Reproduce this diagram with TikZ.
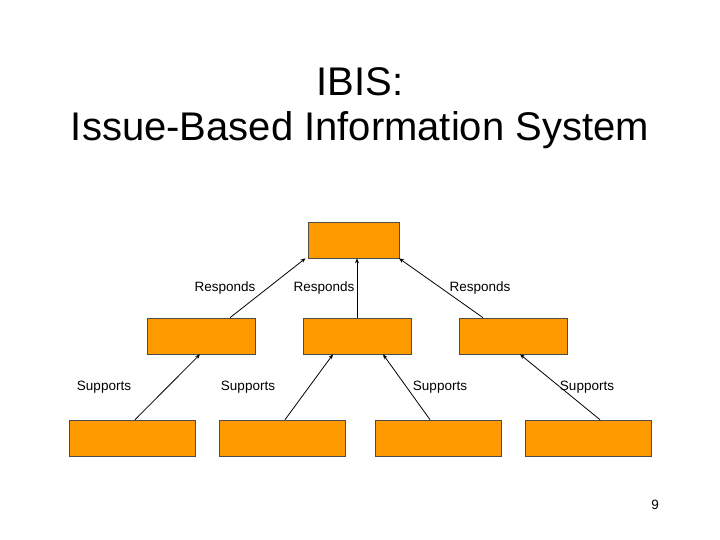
\documentclass[tikz,border=0pt]{standalone}
\usepackage{fontspec}
\setmainfont{Liberation Sans}
\usetikzlibrary{arrows.meta}
\definecolor{boxorange}{HTML}{FF9900}
\begin{document}
\begin{tikzpicture}[x=1pt,y=-1pt,
  box/.style={draw=black!70,line width=0.6pt,fill=boxorange,inner sep=0pt},
  lbl/.style={font=\fontsize{13.5}{16}\selectfont,inner sep=0pt},
  link/.style={-{Stealth[length=5pt,width=4pt]},line width=0.8pt}]
\useasboundingbox (0,0) rectangle (720,540);

% Title
\node[align=center,font=\fontsize{40}{45}\selectfont] (title) at (360,108) {IBIS:\\Issue-Based Information System};

% Boxes
\node[box,minimum width=91pt,minimum height=36pt] (top) at (353.5,240) {};
\node[box,minimum width=108pt,minimum height=36pt] (m1) at (201,336) {};
\node[box,minimum width=108pt,minimum height=36pt] (m2) at (357,336) {};
\node[box,minimum width=108pt,minimum height=36pt] (m3) at (513,336) {};
\node[box,minimum width=126pt,minimum height=36pt] (b1) at (132,438) {};
\node[box,minimum width=126pt,minimum height=36pt] (b2) at (282,438) {};
\node[box,minimum width=126pt,minimum height=36pt] (b3) at (438,438) {};
\node[box,minimum width=126pt,minimum height=36pt] (b4) at (588,438) {};

% Connectors
\draw[link] ([xshift=29pt]m1.north) -- ([xshift=-48pt]top.south);
\draw[link] (m2.north) -- ([xshift=3.5pt]top.south);
\draw[link] ([xshift=-30pt]m3.north) -- ([xshift=45.5pt]top.south);
\draw[link] ([xshift=3pt]b1.north) -- ([xshift=-1pt]m1.south);
\draw[link] ([xshift=3pt]b2.north) -- ([xshift=-24pt]m2.south);
\draw[link] ([xshift=-8pt]b3.north) -- ([xshift=26pt]m2.south);
\draw[link] ([xshift=12pt]b4.north) -- ([xshift=7pt]m3.south);

% Labels
\node[lbl] (r1) at (225,288) {Responds};
\node[lbl] (r2) at (324,288) {Responds};
\node[lbl] (r3) at (480,288) {Responds};
\node[lbl] (s1) at (104,387) {Supports};
\node[lbl] (s2) at (248,387) {Supports};
\node[lbl] (s3) at (440,387) {Supports};
\node[lbl] (s4) at (587,387) {Supports};
\node[lbl] (page) at (655,505) {9};
\end{tikzpicture}
\end{document}
